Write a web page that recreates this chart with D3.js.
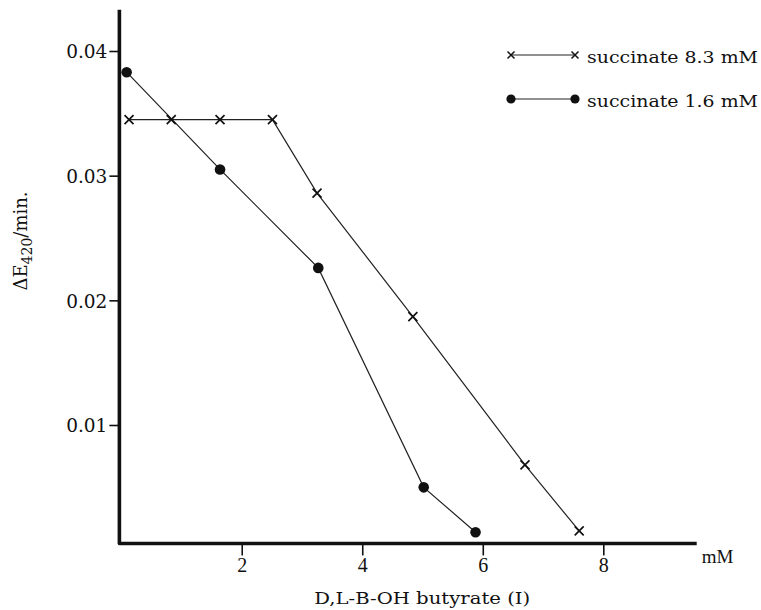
<!DOCTYPE html>
<html>
<head>
	<meta charset="utf-8">
	<title>D,L-B-OH butyrate inhibition</title>
	<script src="https://d3js.org/d3.v7.min.js"></script>
	<style>
		body { margin: 0; background: #fff; }
		text { fill: #111; }
		.serif { font-family: 'DejaVu Serif', serif; }
		.times { font-family: 'Liberation Serif', serif; }
	</style>
</head>
<body>

	<script type="text/javascript">

		// Data
		var xCross = [0.13, 0.83, 1.64, 2.51, 3.25, 4.84, 6.70, 7.60];
		var yCross = [0.0345, 0.0345, 0.0345, 0.0345, 0.0286, 0.0187, 0.0068, 0.0015];
		var xDot = [0.09, 1.64, 3.27, 5.02, 5.88];
		var yDot = [0.0383, 0.0305, 0.0226, 0.0050, 0.0014];
		var seriesLabels = ['succinate 8.3 mM', 'succinate 1.6 mM'];
		var xTicks = [2, 4, 6, 8];
		var yTicks = [0.01, 0.02, 0.03, 0.04];

		var outerWidth = 761,
			outerHeight = 610;

		// Scales
		var x = d3.scaleLinear().domain([0, 8]).range([121.2, 603.3]);
		var y = d3.scaleLinear().domain([0.01, 0.04]).range([425, 51]);

		// where the drawn axes sit (they are slightly off the origin)
		var xAxisAt = 0.0005,
			yAxisAt = -0.03,
			xEnd = 9.55,
			yTop = 0.0433;

		var svg = d3.select('body')
					.append('svg')
					.attr('width', outerWidth)
					.attr('height', outerHeight);

		// Tick marks + labels through d3 axes
		var yAxis = svg.append('g')
			.attr('transform', 'translate(' + x(yAxisAt) + ',0)')
			.call(d3.axisLeft(y).tickValues(yTicks).tickFormat(d3.format('.2f')).tickSize(10).tickPadding(2));

		yAxis.select('.domain').remove();
		yAxis.selectAll('.tick line').attr('stroke', '#111').attr('stroke-width', 1.6);
		yAxis.selectAll('.tick text')
			 .attr('class', 'serif')
			 .style('font-size', '18.5px')
			 .attr('dy', '0.36em')
			 .attr('fill', '#111');

		var xAxis = svg.append('g')
			.attr('transform', 'translate(0,' + y(xAxisAt) + ')')
			.call(d3.axisBottom(x).tickValues(xTicks).tickFormat(d3.format('d')).tickSize(12).tickPadding(1));

		xAxis.select('.domain').remove();
		xAxis.selectAll('.tick line').attr('stroke', '#111').attr('stroke-width', 1.6);
		xAxis.selectAll('.tick text')
			 .attr('class', 'times')
			 .style('font-size', '20px')
			 .attr('dy', '0.78em')
			 .attr('fill', '#111');

		// Heavy axis lines
		svg.append('path')
		   .attr('d', 'M' + x(yAxisAt) + ',' + y(yTop) +
		   			  'L' + x(yAxisAt) + ',' + y(xAxisAt) +
		   			  'L' + x(xEnd) + ',' + y(xAxisAt))
		   .attr('fill', 'none')
		   .attr('stroke', '#111')
		   .attr('stroke-width', 3.6)
		   .attr('stroke-linejoin', 'round');

		// Axis unit + titles
		svg.append('text')
		   .attr('class', 'times')
		   .attr('x', x(xEnd) + 5)
		   .attr('y', y(xAxisAt) + 20)
		   .style('font-size', '19px')
		   .text('mM');

		svg.append('text')
		   .attr('class', 'serif')
		   .attr('x', x(4.0) + 60)
		   .attr('y', 604)
		   .attr('text-anchor', 'middle')
		   .attr('textLength', 216)
		   .attr('lengthAdjust', 'spacingAndGlyphs')
		   .style('font-size', '17px')
		   .text('D,L-B-OH butyrate (I)');

		var yTitle = svg.append('text')
		   .attr('class', 'serif')
		   .attr('transform', 'translate(27,241) rotate(-90)')
		   .attr('text-anchor', 'middle')
		   .style('font-size', '18px');

		yTitle.append('tspan').text('ΔE');
		yTitle.append('tspan').attr('dy', 5).style('font-size', '14px').text('420');
		yTitle.append('tspan').attr('dy', -5).text('/min.');

		// Series
		var crossData = xCross.map(function(d, i) { return [d, yCross[i]]; });
		var dotData = xDot.map(function(d, i) { return [d, yDot[i]]; });

		var line = d3.line()
					 .x(function(d) { return x(d[0]); })
					 .y(function(d) { return y(d[1]); });

		svg.append('path')
		   .datum(crossData)
		   .attr('d', line)
		   .attr('fill', 'none')
		   .attr('stroke', '#222')
		   .attr('stroke-width', 1.2);

		svg.append('path')
		   .datum(dotData)
		   .attr('d', line)
		   .attr('fill', 'none')
		   .attr('stroke', '#222')
		   .attr('stroke-width', 1.2);

		function cross(s) {
			return 'M' + (-s) + ',' + (-s) + 'L' + s + ',' + s + 'M' + (-s) + ',' + s + 'L' + s + ',' + (-s);
		}

		svg.selectAll('.cross')
		   .data(crossData)
		   .enter()
		   .append('path')
		   .attr('class', 'cross')
		   .attr('transform', function(d) { return 'translate(' + x(d[0]) + ',' + y(d[1]) + ')'; })
		   .attr('d', cross(4.5))
		   .attr('stroke', '#111')
		   .attr('stroke-width', 1.7)
		   .attr('fill', 'none');

		svg.selectAll('.dot')
		   .data(dotData)
		   .enter()
		   .append('circle')
		   .attr('class', 'dot')
		   .attr('cx', function(d) { return x(d[0]); })
		   .attr('cy', function(d) { return y(d[1]); })
		   .attr('r', 5.3)
		   .attr('fill', '#111');

		// Legend
		var legend = svg.append('g')
						.attr('transform', 'translate(511,55)');

		seriesLabels.forEach(function(label, i) {

			var row = legend.append('g')
							.attr('transform', 'translate(0,' + (i * 44) + ')');

			row.append('line')
			   .attr('x1', 0).attr('x2', 64)
			   .attr('stroke', '#222')
			   .attr('stroke-width', 1.2);

			[0, 64].forEach(function(px) {
				if (i === 0) {
					row.append('path')
					   .attr('transform', 'translate(' + px + ',0)')
					   .attr('d', cross(3.5))
					   .attr('fill', 'none')
					   .attr('stroke', '#111')
					   .attr('stroke-width', 1.5);
				} else {
					row.append('circle')
					   .attr('cx', px)
					   .attr('r', 4.6)
					   .attr('fill', '#111');
				}
			});

			row.append('text')
			   .attr('class', 'serif')
			   .attr('x', 76)
			   .attr('y', 8)
			   .attr('textLength', 171)
			   .attr('lengthAdjust', 'spacingAndGlyphs')
			   .style('font-size', '17.5px')
			   .text(label);
		});

	</script>
</body>
</html>
